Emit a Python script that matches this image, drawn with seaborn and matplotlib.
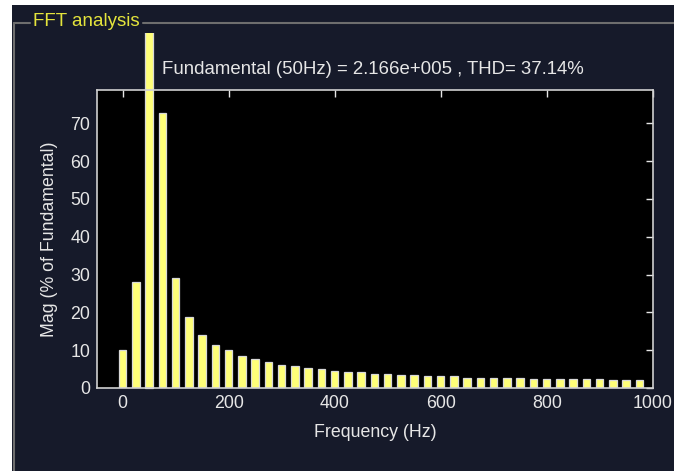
import matplotlib
matplotlib.use("Agg")
import matplotlib.pyplot as plt
from matplotlib.patches import Rectangle
from matplotlib.lines import Line2D
import seaborn as sns
import pandas as pd

# ---- data ----
freqs = [0, 25, 50, 75, 100, 125, 150, 175, 200, 225, 250, 275, 300, 325, 350, 375,
         400, 425, 450, 475, 500, 525, 550, 575, 600, 625, 650, 675, 700, 725, 750,
         775, 800, 825, 850, 875, 900, 925, 950, 975]
mags = [10.0, 28.0, 100.0, 72.7, 29.1, 18.8, 14.1, 11.5, 10.0, 8.5, 7.7, 6.9, 6.0, 5.8,
        5.3, 5.1, 4.6, 4.3, 4.3, 3.8, 3.8, 3.5, 3.5, 3.1, 3.1, 3.1, 2.7, 2.7, 2.7, 2.7,
        2.7, 2.3, 2.3, 2.3, 2.3, 2.3, 2.3, 2.0, 2.0, 2.0]
xticks = [0, 200, 400, 600, 800, 1000]
yticks = [0, 10, 20, 30, 40, 50, 60, 70]
panel_title = "FFT analysis"
info_text = "Fundamental (50Hz) = 2.166e+005 , THD= 37.14%"
xlabel = "Frequency (Hz)"
ylabel = "Mag (% of Fundamental)"

BG = "#161a2a"
FG = "#e6e6e6"
BAR = "#ffff78"

sns.set_style("dark", rc={"axes.facecolor": "black", "figure.facecolor": BG})
plt.rcParams["font.family"] = ["Liberation Sans", "DejaVu Sans"]

W, H = 674, 471
fig = plt.figure(figsize=(W / 100, H / 100), dpi=100, facecolor=BG)
ax = fig.add_axes([97 / W, 1 - 388 / H, (652.7 - 97) / W, (388 - 90) / H])
ax.set_facecolor("black")

df = pd.DataFrame({"freq": freqs, "mag": mags})
sns.barplot(data=df, x="freq", y="mag", native_scale=True, width=0.56,
            color=BAR, saturation=1, edgecolor="#d8d8d8", linewidth=0.9, ax=ax)

ax.set_xlim(-48.5, 1000)
ax.set_ylim(0, 78.8)
ax.set_xticks(xticks)
ax.set_yticks(yticks)
ax.tick_params(axis="both", which="both", direction="in", length=5, width=1,
               colors=FG, labelsize=12.8, top=True, right=True, pad=5)
for s in ax.spines.values():
    s.set_visible(True)
    s.set_color("#d0d0d0")
    s.set_linewidth(1.2)
ax.grid(False)
ax.set_xlabel(xlabel, color=FG, fontsize=12.8, labelpad=9)
ax.set_ylabel(ylabel, color=FG, fontsize=12.8, labelpad=9)

# fundamental bar extends beyond the axes top (clipped by the panel)
for p in ax.patches:
    if p.get_height() > 79:
        p.set_clip_path(Rectangle((0, 0), 1, 1 - 33 / H, transform=fig.transFigure))

# panel decorations
fig.patches.append(Rectangle((0, 1 - 5 / H), 1, 5 / H, transform=fig.transFigure,
                             facecolor="white", edgecolor="none", zorder=0))
fig.patches.append(Rectangle((0, 0), 12 / W, 1, transform=fig.transFigure,
                             facecolor="white", edgecolor="none", zorder=0))
ly = 1 - 23 / H
for xs, ys in [([14 / W, 30 / W], [ly, ly]), ([143 / W, 1], [ly, ly]),
               ([14 / W, 14 / W], [0, ly])]:
    fig.lines.append(Line2D(xs, ys, transform=fig.transFigure, color="#6e6e6e", lw=1.5))

fig.text(33 / W, 1 - 22 / H, panel_title, color="#e4e43c", fontsize=13.5,
         ha="left", va="center")
fig.text(162 / W, 1 - 69 / H, info_text, color=FG, fontsize=13.4,
         ha="left", va="center")

fig.savefig("out.png", dpi=100, facecolor=BG)
